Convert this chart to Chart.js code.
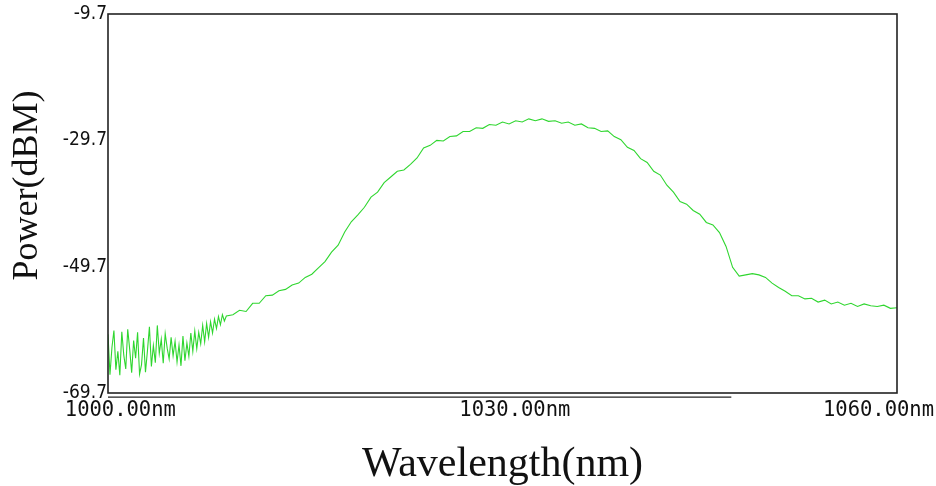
<!DOCTYPE html>
<html lang="en">
<head>
<meta charset="UTF-8">
<title>Power vs Wavelength</title>
<script src="https://cdn.jsdelivr.net/npm/chart.js"></script>
<style>
  body{margin:0;background:#fff}
  #wrap{width:936px;height:486px}
</style>
</head>
<body>
<div id="wrap"><canvas id="spec" width="936" height="486"></canvas></div>
<script>
// --- data -------------------------------------------------------------------
// noisy floor 1000-1009 nm sampled every 0.15 nm, then every 0.5 nm
const wavelength=[
  1000.00,1000.15,1000.30,1000.45,1000.60,1000.75,1000.90,1001.05,1001.20,1001.35,
  1001.50,1001.65,1001.80,1001.95,1002.10,1002.25,1002.40,1002.55,1002.70,1002.85,
  1003.00,1003.15,1003.30,1003.45,1003.60,1003.75,1003.90,1004.05,1004.20,1004.35,
  1004.50,1004.65,1004.80,1004.95,1005.10,1005.25,1005.40,1005.55,1005.70,1005.85,
  1006.00,1006.15,1006.30,1006.45,1006.60,1006.75,1006.90,1007.05,1007.20,1007.35,
  1007.50,1007.65,1007.80,1007.95,1008.10,1008.25,1008.40,1008.55,1008.70,1008.85,
  1009.00,
  1009.5,1010.0,1010.5,1011.0,1011.5,1012.0,1012.5,1013.0,1013.5,1014.0,
  1014.5,1015.0,1015.5,1016.0,1016.5,1017.0,1017.5,1018.0,1018.5,1019.0,
  1019.5,1020.0,1020.5,1021.0,1021.5,1022.0,1022.5,1023.0,1023.5,1024.0,
  1024.5,1025.0,1025.5,1026.0,1026.5,1027.0,1027.5,1028.0,1028.5,1029.0,
  1029.5,1030.0,1030.5,1031.0,1031.5,1032.0,1032.5,1033.0,1033.5,1034.0,
  1034.5,1035.0,1035.5,1036.0,1036.5,1037.0,1037.5,1038.0,1038.5,1039.0,
  1039.5,1040.0,1040.5,1041.0,1041.5,1042.0,1042.5,1043.0,1043.5,1044.0,
  1044.5,1045.0,1045.5,1046.0,1046.5,1047.0,1047.5,1048.0,1048.5,1049.0,
  1049.5,1050.0,1050.5,1051.0,1051.5,1052.0,1052.5,1053.0,1053.5,1054.0,
  1054.5,1055.0,1055.5,1056.0,1056.5,1057.0,1057.5,1058.0,1058.5,1059.0,
  1059.5,1060.0
];
const power=[
  -60.4,-66.8,-62.5,-59.8,-66.0,-63.1,-66.9,-60.0,-63.7,-65.9,
  -59.6,-62.8,-66.5,-61.4,-64.2,-60.1,-66.7,-65.2,-61.0,-66.4,
  -63.0,-59.2,-65.5,-62.2,-64.9,-59.0,-63.4,-61.2,-65.0,-60.3,
  -62.6,-64.3,-60.9,-63.8,-61.5,-64.8,-62.1,-65.4,-60.7,-64.6,
  -61.8,-63.9,-60.2,-63.1,-59.9,-62.7,-60.1,-61.9,-59.0,-61.6,
  -58.7,-60.9,-58.4,-60.2,-58.0,-59.5,-57.6,-58.9,-57.3,-58.3,
  -57.5,
  -57.3,-56.6,-56.8,-55.5,-55.5,-54.3,-54.2,-53.5,-53.3,-52.6,
  -52.3,-51.4,-50.9,-49.9,-48.9,-47.4,-46.3,-44.2,-42.6,-41.5,
  -40.3,-38.7,-37.9,-36.4,-35.5,-34.6,-34.4,-33.5,-32.5,-30.9,
  -30.5,-29.7,-29.8,-29.1,-29.0,-28.3,-28.3,-27.7,-27.8,-27.2,
  -27.3,-26.8,-27.1,-26.6,-26.8,-26.3,-26.6,-26.3,-26.7,-26.6,
  -27.0,-26.8,-27.3,-27.1,-27.7,-27.8,-28.3,-28.2,-29.1,-29.6,
  -30.8,-31.3,-32.6,-33.2,-34.6,-35.2,-36.8,-37.9,-39.4,-39.8,
  -40.8,-41.4,-42.7,-43.1,-44.3,-46.5,-49.8,-51.2,-51.0,-50.8,
  -51.0,-51.4,-52.3,-53.0,-53.6,-54.3,-54.3,-54.8,-54.7,-55.3,
  -55.0,-55.6,-55.3,-55.8,-55.5,-56.0,-55.6,-55.9,-56.0,-55.8,
  -56.3,-56.2
];
const xTicks=[1000,1030,1060];
const xTickLabels=['1000.00nm','1030.00nm','1060.00nm'];
const yTicks=[-69.7,-49.7,-29.7,-9.7];
const yTickLabels=['-69.7','-49.7','-29.7','-9.7'];
// the short second rule under the x axis (sweep bar), ends near 1047.4 nm
const barNm=[1000,1047.4];
const barLevel=[-70.35,-70.35];

// --- chart ------------------------------------------------------------------
const serif='"Liberation Serif","Times New Roman",serif';
const mono='"DejaVu Sans Mono",monospace';
const narrow='"Liberation Sans Narrow","DejaVu Sans Condensed",sans-serif';

// plot frame drawn round the chart area
const frame={
  id:'frame',
  afterDatasetsDraw(c){
    const {ctx,chartArea:a}=c;
    ctx.save();
    ctx.strokeStyle='#222';
    ctx.lineWidth=1.6;
    ctx.strokeRect(a.left,a.top,a.right-a.left,a.bottom-a.top);
    ctx.restore();
  }
};

new Chart(document.getElementById('spec'),{
  type:'line',
  data:{datasets:[
    {data:wavelength.map((x,i)=>({x,y:power[i]})),borderColor:'#2fd62f',borderWidth:1.1,pointRadius:0,tension:0},
    {data:barNm.map((x,i)=>({x,y:barLevel[i]})),borderColor:'#222',borderWidth:1.4,pointRadius:0,clip:false}
  ]},
  options:{
    responsive:false,
    animation:false,
    events:[],
    layout:{padding:{top:14,right:39,bottom:0,left:0}},
    plugins:{legend:{display:false},tooltip:{enabled:false}},
    scales:{
      x:{
        type:'linear',min:1000,max:1060,
        grid:{display:false,drawTicks:false},
        border:{display:false},
        afterBuildTicks:s=>{s.ticks=xTicks.map(v=>({value:v}));},
        afterFit:s=>{s.height=93;s.paddingLeft=0;s.paddingRight=0;},
        ticks:{
          autoSkip:false,maxRotation:0,padding:5,color:'#111',
          font:{family:mono,size:20.5},
          // spaces nudge the labels the way the instrument screen offsets them
          callback:(v,i)=>i===xTickLabels.length-1?xTickLabels[i]+'   ':'  '+xTickLabels[i]
        },
        title:{display:true,text:'Wavelength(nm)',color:'#111',font:{family:serif,size:42,lineHeight:1},padding:{top:0,bottom:0}}
      },
      y:{
        type:'linear',min:-69.7,max:-9.7,
        grid:{display:false,drawTicks:false},
        border:{display:false},
        afterBuildTicks:s=>{s.ticks=yTicks.map(v=>({value:v}));},
        afterFit:s=>{s.width=108;s.paddingTop=0;s.paddingBottom=0;},
        ticks:{padding:1,color:'#111',font:{family:narrow,size:19},callback:(v,i)=>yTickLabels[i]},
        title:{display:true,text:'    Power(dBM)',color:'#111',font:{family:serif,size:36,lineHeight:1},padding:{top:10,bottom:0}}
      }
    }
  },
  plugins:[frame]
});
</script>
</body>
</html>
